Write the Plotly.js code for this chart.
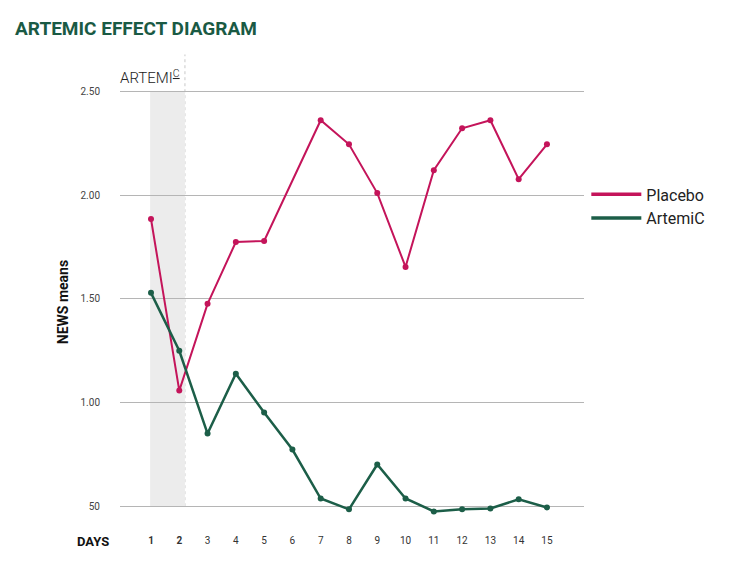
<!DOCTYPE html>
<html>
<head>
<meta charset="utf-8">
<script src="https://cdn.plot.ly/plotly-3.0.1.min.js"></script>
<style>html,body{margin:0;padding:0;background:#fff;}#chart{width:750px;height:568px;}</style>
</head>
<body>
<div id="chart"></div>
<script>
var days = [1,2,3,4,5,6,7,8,9,10,11,12,13,14,15];
var dayLabels = ['1','2','3','4','5','6','7','8','9','10','11','12','13','14','15'];
var placebo = [1.885,1.058,1.476,1.774,1.779,null,2.361,2.245,2.010,1.654,2.120,2.322,2.361,2.077,2.245];
var artemic = [1.529,1.250,0.851,1.139,0.952,0.774,0.538,0.486,0.702,0.538,0.476,0.486,0.490,0.534,0.495];
var yTicks = [0.5,1.0,1.5,2.0,2.5];
var yTickLabels = ['50','1.00','1.50','2.00','2.50'];
var seriesNames = ['Placebo','ArtemiC'];

var red = '#c4145a', green = '#1c5e48';
var traces = [
  {x: days, y: placebo, name: seriesNames[0], type: 'scatter', mode: 'lines+markers', connectgaps: true, showlegend: false,
   line: {color: red, width: 2}, marker: {color: red, size: 6}},
  {x: days, y: artemic, name: seriesNames[1], type: 'scatter', mode: 'lines+markers', showlegend: false,
   line: {color: green, width: 2.5}, marker: {color: green, size: 6}},
  {x: [null], y: [null], name: seriesNames[0], type: 'scatter', mode: 'lines', line: {color: red, width: 3.5}},
  {x: [null], y: [null], name: seriesNames[1], type: 'scatter', mode: 'lines', line: {color: green, width: 3.5}}
];
var layout = {
  width: 750, height: 568,
  paper_bgcolor: '#fff', plot_bgcolor: '#fff',
  margin: {l: 120, r: 166, t: 81, b: 45},
  font: {family: 'Roboto, "DejaVu Sans", sans-serif', color: '#333'},
  showlegend: true,
  legend: {x: 1.005, xanchor: 'left', y: 0.782, yanchor: 'top', font: {size: 16, color: '#222'},
           bgcolor: 'rgba(0,0,0,0)', itemwidth: 50},
  title: {text: 'ARTEMIC EFFECT DIAGRAM', x: 0.02, xanchor: 'left', y: 0.95, yanchor: 'middle',
          font: {family: 'Roboto, sans-serif', size: 19, color: '#1a5a44', weight: 700}},
  xaxis: {range: [-0.096, 16.31], tickvals: days,
          ticktext: dayLabels.map(function (d, i) { return i < 2 ? '<b>' + d + '</b>' : d; }),
          showgrid: false, zeroline: false,
          showline: false, ticks: 'outside', ticklen: 8, tickcolor: 'rgba(0,0,0,0)',
          tickfont: {size: 10, color: '#333'}, fixedrange: true},
  yaxis: {range: [0.42, 2.55], tickvals: yTicks, ticktext: yTickLabels, showgrid: true, gridcolor: '#b5b5b5',
          gridwidth: 1, zeroline: false, showline: false, ticks: 'outside', ticklen: 17, tickcolor: 'rgba(0,0,0,0)',
          tickfont: {size: 10, color: '#444'},
          title: {text: '<b>NEWS means</b>', font: {size: 14, color: '#111'}, standoff: 8}},
  shapes: [
    {type: 'rect', xref: 'x', yref: 'y', x0: 0.97, x1: 2.2, y0: 0.5, y1: 2.5, fillcolor: '#ececec', line: {width: 0}, layer: 'below'},
    {type: 'line', xref: 'x', yref: 'paper', x0: 2.2, x1: 2.2, y0: 0.038, y1: 1.06, line: {color: '#c8c8c8', width: 1, dash: 'dot'}, layer: 'below'}
  ],
  annotations: [
    {text: 'ARTEMI<sup><u>C</u></sup>', xref: 'paper', yref: 'paper', x: -0.004, y: 0.983, xanchor: 'left', yanchor: 'bottom',
     showarrow: false, font: {size: 15, color: '#222', family: 'Roboto, sans-serif', weight: 300}},
    {text: '<b>DAYS</b>', xref: 'paper', yref: 'paper', x: -0.02, xanchor: 'right', y: -0.041, yanchor: 'middle',
     showarrow: false, font: {size: 13, color: '#111'}}
  ]
};
Plotly.newPlot('chart', traces, layout, {displayModeBar: false, staticPlot: true});
</script>
</body>
</html>
